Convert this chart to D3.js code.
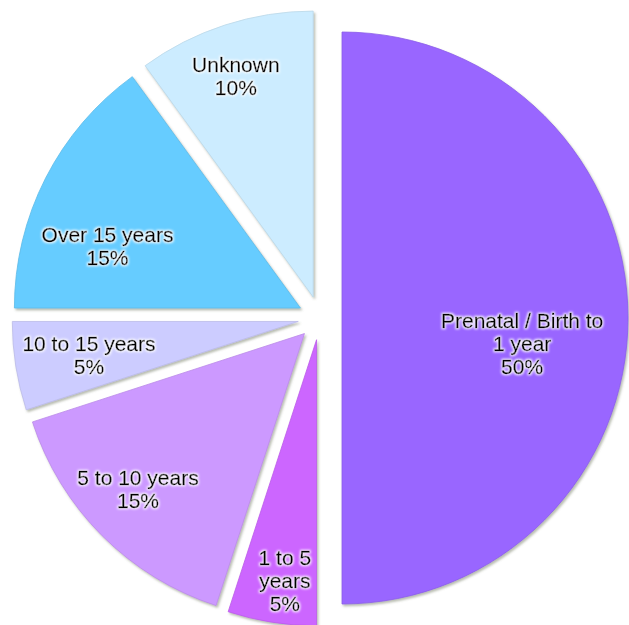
<!DOCTYPE html>
<html>
<head>
<meta charset="utf-8">
<script src="https://cdn.jsdelivr.net/npm/d3@7/dist/d3.min.js"></script>
<style>
body{margin:0;background:#fff;}
svg{display:block;}
</style>
</head>
<body>
<script>
//chart data, clockwise from 12 o'clock
var categories = ["Prenatal / Birth to 1 year", "1 to 5 years", "5 to 10 years", "10 to 15 years", "Over 15 years", "Unknown"];
var labelLines = [["Prenatal / Birth to", "1 year"], ["1 to 5", "years"], ["5 to 10 years"], ["10 to 15 years"], ["Over 15 years"], ["Unknown"]];
var percents = [50, 5, 15, 5, 15, 10];
var colors = ["#9966ff", "#cc66ff", "#cc99ff", "#ccccff", "#66ccff", "#ccecff"];

//label placement: share of radius and angle nudge (degrees) from slice middle
var labelPlace = {
    "Prenatal / Birth to 1 year": [0.636, 8],
    "1 to 5 years": [0.85, -1.5],
    "5 to 10 years": [0.797, 1.9],
    "10 to 15 years": [0.741, 0],
    "Over 15 years": [0.708, -9.3],
    "Unknown": [0.818, -1.3]
};

var width = 629,
    height = 625,
    cx = 320,
    cy = 318,
    radius = 286,
    explode = 22,
    lineH = 23;

var svg = d3.select("body")
    .append("svg")
    .attr("width", width)
    .attr("height", height);

var defs = svg.append("defs");

//soft shadow under the slices
defs.append("filter")
    .attr("id", "shadow")
    .attr("x", "-10%").attr("y", "-10%")
    .attr("width", "120%").attr("height", "120%")
    .append("feDropShadow")
    .attr("dx", 1.5)
    .attr("dy", 2)
    .attr("stdDeviation", 1.3)
    .attr("flood-color", "#667055")
    .attr("flood-opacity", 0.45);

//white glow round the labels
var glow = defs.append("filter")
    .attr("id", "glow")
    .attr("x", "-20%").attr("y", "-30%")
    .attr("width", "140%").attr("height", "160%");
glow.append("feMorphology")
    .attr("in", "SourceAlpha")
    .attr("operator", "dilate")
    .attr("radius", 1.2)
    .attr("result", "d");
glow.append("feGaussianBlur")
    .attr("in", "d")
    .attr("stdDeviation", 1.3)
    .attr("result", "b");
glow.append("feFlood")
    .attr("flood-color", "#ffffff")
    .attr("flood-opacity", 0.9);
glow.append("feComposite")
    .attr("in2", "b")
    .attr("operator", "in")
    .attr("result", "g");
var merge = glow.append("feMerge");
merge.append("feMergeNode").attr("in", "g");
merge.append("feMergeNode").attr("in", "SourceGraphic");

var pie = d3.pie()
    .sort(null)
    .value(function(d){ return d; });

var arc = d3.arc()
    .innerRadius(0)
    .outerRadius(radius);

var slices = pie(percents);

//offset of each slice along its middle angle
function shift(d){
    var a = (d.startAngle + d.endAngle) / 2;
    return [cx + Math.sin(a) * explode, cy - Math.cos(a) * explode];
}

var g = svg.append("g");

g.selectAll(".slice")
    .data(slices)
    .enter()
    .append("path")
    .attr("class", "slice")
    .attr("transform", function(d){ return "translate(" + shift(d) + ")"; })
    .attr("d", arc)
    .attr("fill", function(d, i){ return colors[i]; })
    .attr("stroke", function(d, i){ return d3.color(colors[i]).darker(0.25); })
    .attr("stroke-width", 0.8)
    .attr("filter", "url(#shadow)");

//labels
var labels = svg.selectAll(".label")
    .data(slices)
    .enter()
    .append("text")
    .attr("class", "label")
    .attr("text-anchor", "middle")
    .attr("font-family", "'Liberation Sans', Arial, sans-serif")
    .attr("font-size", "21px")
    .attr("fill", "#000")
    .attr("stroke", "#000")
    .attr("stroke-width", 0.35)
    .attr("filter", "url(#glow)")
    .each(function(d, i){
        var p = labelPlace[categories[i]];
        var a = (d.startAngle + d.endAngle) / 2 + p[1] * Math.PI / 180;
        var o = shift(d);
        var x = o[0] + Math.sin(a) * radius * p[0];
        var y = o[1] - Math.cos(a) * radius * p[0];
        var lines = labelLines[i].concat([percents[i] + "%"]);
        var top = y - (lines.length - 1) * lineH / 2 + 7.5;
        var t = d3.select(this);
        lines.forEach(function(s, k){
            t.append("tspan")
                .attr("x", x)
                .attr("y", top + k * lineH)
                .text(s);
        });
    });
</script>
</body>
</html>
